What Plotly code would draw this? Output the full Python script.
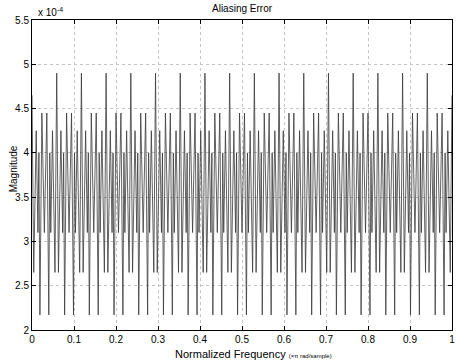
import plotly.graph_objects as go

# ---- data (magnitude in units of 1e-4) ----
n_periods = 17
# position of each turning point inside one period (fraction of period)
period_offsets = [0.00, 0.07, 0.17, 0.24, 0.28, 0.32, 0.40, 0.50, 0.60, 0.68, 0.72, 0.76, 0.83, 0.93]
# turning-point values for each of the 17 periods
period_values = [
    [4.65, 2.65, 4.25, 3.10, 4.00, 2.17, 4.45, 3.10, 4.45, 2.17, 4.00, 3.10, 4.25, 2.65],
    [4.90, 2.65, 4.25, 3.10, 4.00, 2.17, 4.45, 3.10, 4.45, 2.17, 4.00, 3.10, 4.25, 2.65],
    [4.90, 2.65, 4.25, 3.10, 4.00, 2.17, 4.45, 3.10, 4.45, 2.17, 4.00, 3.10, 4.25, 2.65],
    [4.90, 2.65, 4.25, 3.10, 4.00, 2.17, 4.45, 3.10, 4.45, 2.17, 4.00, 3.10, 4.25, 2.65],
    [4.90, 2.65, 4.25, 3.10, 4.00, 2.17, 4.45, 3.10, 4.45, 2.17, 4.00, 3.10, 4.25, 2.65],
    [4.90, 2.65, 4.25, 3.10, 4.00, 2.17, 4.45, 3.10, 4.45, 2.17, 4.00, 3.10, 4.25, 2.65],
    [4.90, 2.65, 4.25, 3.10, 4.00, 2.17, 4.45, 3.10, 4.45, 2.17, 4.00, 3.10, 4.25, 2.65],
    [4.90, 2.65, 4.25, 3.10, 4.00, 2.17, 4.45, 3.10, 4.45, 2.17, 4.00, 3.10, 4.25, 2.65],
    [4.90, 2.65, 4.25, 3.10, 4.00, 2.17, 4.45, 3.10, 4.45, 2.17, 4.00, 3.10, 4.25, 2.65],
    [4.90, 2.65, 4.25, 3.10, 4.00, 2.17, 4.45, 3.10, 4.45, 2.17, 4.00, 3.10, 4.25, 2.65],
    [4.90, 2.65, 4.25, 3.10, 4.00, 2.17, 4.45, 3.10, 4.45, 2.17, 4.00, 3.10, 4.25, 2.65],
    [4.90, 2.65, 4.25, 3.10, 4.00, 2.17, 4.45, 3.10, 4.45, 2.17, 4.00, 3.10, 4.25, 2.65],
    [4.90, 2.65, 4.25, 3.10, 4.00, 2.17, 4.45, 3.10, 4.45, 2.17, 4.00, 3.10, 4.25, 2.65],
    [4.90, 2.65, 4.25, 3.10, 4.00, 2.17, 4.45, 3.10, 4.45, 2.17, 4.00, 3.10, 4.25, 2.65],
    [4.90, 2.65, 4.25, 3.10, 4.00, 2.17, 4.45, 3.10, 4.45, 2.17, 4.00, 3.10, 4.25, 2.65],
    [4.90, 2.65, 4.25, 3.10, 4.00, 2.17, 4.45, 3.10, 4.45, 2.17, 4.00, 3.10, 4.25, 2.65],
    [4.90, 2.65, 4.25, 3.10, 4.00, 2.17, 4.45, 3.10, 4.45, 2.17, 4.00, 3.10, 4.25, 2.65],
]
end_value = 4.65

x_ticks = [0, 0.1, 0.2, 0.3, 0.4, 0.5, 0.6, 0.7, 0.8, 0.9, 1]
x_tick_labels = ["0", "0.1", "0.2", "0.3", "0.4", "0.5", "0.6", "0.7", "0.8", "0.9", "1"]
y_ticks = [2, 2.5, 3, 3.5, 4, 4.5, 5, 5.5]
y_tick_labels = ["2", "2.5", "3", "3.5", "4", "4.5", "5", "5.5"]

# ---- build series ----
freq = []
mag = []
for k, row in enumerate(period_values):
    for off, v in zip(period_offsets, row):
        freq.append((k + off) / n_periods)
        mag.append(v)
freq.append(1.0)
mag.append(end_value)

FONT = "Arial, Liberation Sans, Helvetica, sans-serif"

fig = go.Figure()
fig.add_trace(go.Scatter(x=freq, y=mag, mode="lines",
                         line=dict(color="#3a3a3a", width=0.8),
                         hoverinfo="skip", showlegend=False))

axis_common = dict(
    showline=True, linecolor="black", linewidth=1, mirror="ticks",
    ticks="inside", ticklen=4, tickcolor="black", automargin=False,
    showgrid=True, gridcolor="#c4c4c4", griddash="dot", gridwidth=1,
    zeroline=False, tickfont=dict(family=FONT, size=10, color="black"),
)
fig.update_xaxes(range=[0, 1], tickvals=x_ticks, ticktext=x_tick_labels, **axis_common)
fig.update_yaxes(range=[2, 5.5], tickvals=y_ticks, ticktext=y_tick_labels, **axis_common)

fig.update_layout(
    width=466, height=363,
    margin=dict(l=32, r=14, t=20, b=33),
    paper_bgcolor="white", plot_bgcolor="white",
    font=dict(family=FONT, color="black"),
    annotations=[
        dict(text="Aliasing Error", xref="paper", yref="paper", x=0.5, y=1,
             yanchor="middle", yshift=12, showarrow=False, font=dict(size=10, family=FONT)),
        dict(text="x 10<sup>-4</sup>", xref="paper", yref="paper", x=0, y=1,
             xanchor="left", yanchor="bottom", xshift=4, yshift=0, showarrow=False,
             font=dict(size=10, family=FONT)),
        dict(text="Normalized Frequency <span style='font-size:6px'>(\u00d7\u03c0 rad/sample)</span>",
             xref="paper", yref="paper", x=0.527, y=0, yshift=-24, xanchor="center",
             yanchor="middle", showarrow=False, font=dict(size=11, family=FONT)),
        dict(text="Magnitude", xref="paper", yref="paper", x=0, y=0.52, xshift=-26,
             textangle=-90, showarrow=False, font=dict(size=10, family=FONT)),
    ],
)

fig.write_html("out.html", config={"displayModeBar": False},
               post_script="document.body.style.margin='0px';document.body.style.overflow='hidden';")
